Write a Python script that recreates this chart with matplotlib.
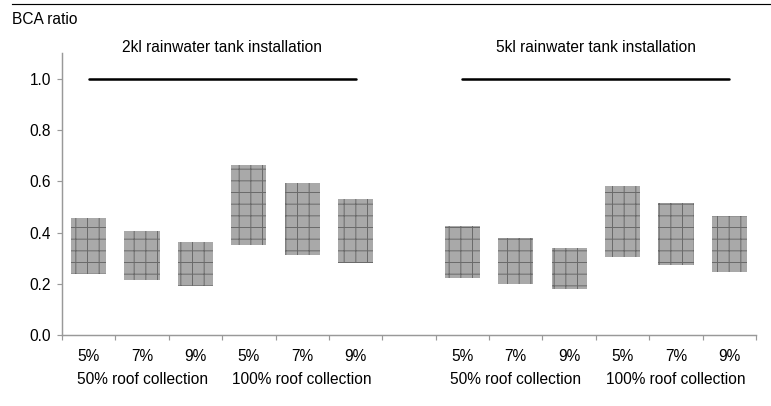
'''
BCA ratio ranges for rainwater tank installations
'''

import matplotlib
matplotlib.use('Agg')
import matplotlib.pyplot as plt
from matplotlib.lines import Line2D
import numpy as np

# data
rates = ['5%', '7%', '9%', '5%', '7%', '9%']
collection_labels = ['50% roof collection', '100% roof collection']
tank_labels = ['2kl rainwater tank installation', '5kl rainwater tank installation']
low_2kl = [0.24, 0.216, 0.193, 0.352, 0.314, 0.282]
high_2kl = [0.456, 0.406, 0.365, 0.664, 0.593, 0.531]
low_5kl = [0.224, 0.199, 0.180, 0.306, 0.273, 0.247]
high_5kl = [0.426, 0.378, 0.339, 0.582, 0.517, 0.465]
break_even = 1.0
##########

DPI = 70
FS = 16
AX_H = 335 - 53.4
plt.rcParams['font.family'] = ['Liberation Sans', 'DejaVu Sans']
plt.rcParams['hatch.linewidth'] = 1.0

fig = plt.figure(figsize=(771 / DPI, 406 / DPI), dpi=DPI)
ax = fig.add_axes([62 / 771, 1 - 335 / 406, (756 - 62) / 771, AX_H / 406])

x_2kl = np.arange(6)
x_5kl = np.arange(7, 13)
lows = low_2kl + low_5kl
highs = high_2kl + high_5kl
xs = np.concatenate([x_2kl, x_5kl])

ax.bar(xs, np.array(highs) - np.array(lows), bottom=lows, width=0.66,
       color='#a9a9a9', edgecolor='#6a6a6a', linewidth=0, hatch='+')

# break-even lines
ax.plot([x_2kl[0], x_2kl[-1]], [break_even, break_even], color='black', lw=2.6, solid_capstyle='round')
ax.plot([x_5kl[0], x_5kl[-1]], [break_even, break_even], color='black', lw=2.6, solid_capstyle='round')

ax.set_xlim(-0.5, 12.5)
ax.set_ylim(0, 1.1)
ax.set_yticks(np.arange(0, 1.01, 0.2))
ax.set_yticklabels(['%.1f' % v for v in np.arange(0, 1.01, 0.2)], fontsize=FS)

ax.set_xticks(np.arange(-0.5, 13, 1.0))
ax.set_xticklabels([])
ax.set_xticks(xs, minor=True)
ax.set_xticklabels(rates + rates, minor=True, fontsize=FS)
ax.tick_params(axis='x', which='minor', length=0, pad=14)
ax.tick_params(axis='x', which='major', length=5, color='#999999', width=1.2)
ax.tick_params(axis='y', length=5, color='#999999', width=1.2, pad=6)

for s in ['top', 'right']:
    ax.spines[s].set_visible(False)
for s in ['left', 'bottom']:
    ax.spines[s].set_color('#999999')
    ax.spines[s].set_linewidth(1.5)

# group labels
group_x = [1, 4, 8, 11]
for i, gx in enumerate(group_x):
    ax.text(gx, -44 / AX_H, collection_labels[i % 2], transform=ax.get_xaxis_transform(),
            ha='center', va='center', fontsize=FS)

ax.text(2.5, (335 - 47) / AX_H, tank_labels[0], transform=ax.get_xaxis_transform(),
        ha='center', va='center', fontsize=FS)
ax.text(9.5, (335 - 48) / AX_H, tank_labels[1], transform=ax.get_xaxis_transform(),
        ha='center', va='center', fontsize=FS)

fig.text(12 / 771, 1 - 20 / 406, 'BCA ratio', ha='left', va='center', fontsize=FS)
fig.add_artist(Line2D([12 / 771, 1], [1 - 4 / 406, 1 - 4 / 406], color='black', lw=1.2))

fig.savefig('out.png', dpi=DPI)
